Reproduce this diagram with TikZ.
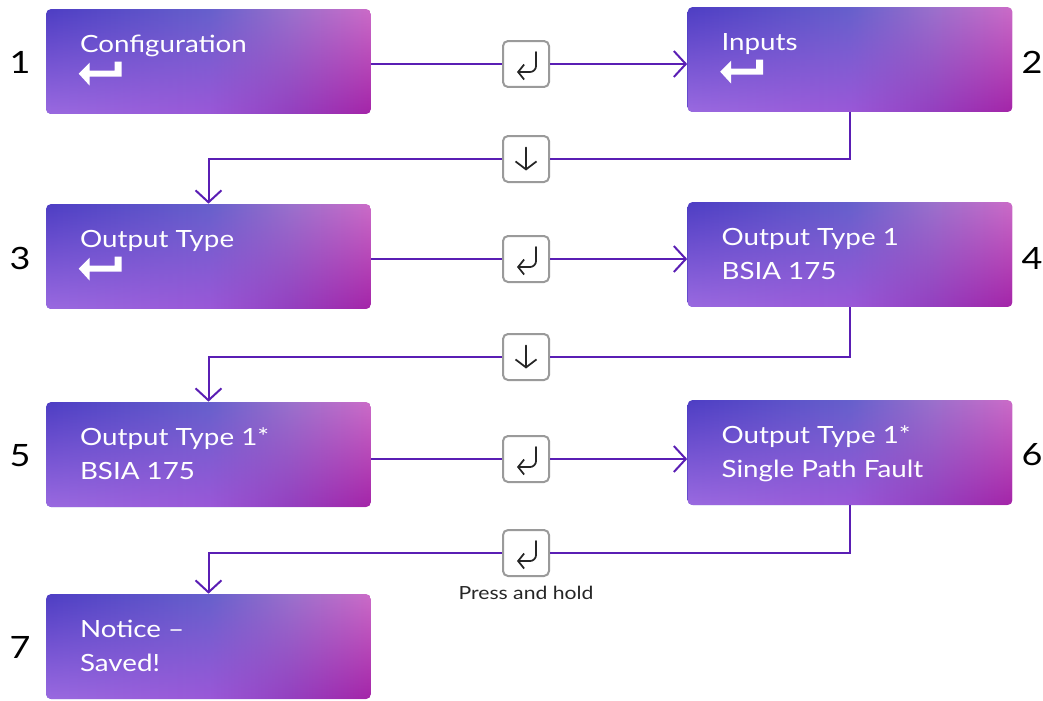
\documentclass[tikz,border=0pt]{standalone}
\usepackage{fontspec}
\setmainfont{Lato}[FakeStretch=1.17]
\usetikzlibrary{arrows.meta,fadings}

\definecolor{flowpurple}{HTML}{5A1EB4}
\definecolor{keygray}{HTML}{9A9A9A}
\definecolor{boxtl}{HTML}{4E3EC4}
\definecolor{boxtm}{HTML}{6660CC}
\definecolor{boxtq}{HTML}{9A70CC}
\definecolor{boxtr}{HTML}{CC6CC8}
\definecolor{boxbl}{HTML}{9A6AE0}
\definecolor{boxbm}{HTML}{9A58D8}
\definecolor{boxbq}{HTML}{9440C0}
\definecolor{boxbr}{HTML}{A424A8}

% stops 25bp..75bp span the box
\pgfdeclarehorizontalshading{boxtop}{100bp}{color(0bp)=(boxtl); color(25bp)=(boxtl); color(50bp)=(boxtm); color(62.5bp)=(boxtq); color(75bp)=(boxtr); color(100bp)=(boxtr)}
\pgfdeclarehorizontalshading{boxbottom}{100bp}{color(0bp)=(boxbl); color(25bp)=(boxbl); color(50bp)=(boxbm); color(62.5bp)=(boxbq); color(75bp)=(boxbr); color(100bp)=(boxbr)}

\tikzset{
  menubox/.style={rectangle, rounded corners=0.1cm, minimum width=6.5cm, minimum height=2.1cm, inner sep=0pt,
    shading=boxtop, postaction={path fading=north, shading=boxbottom}},
  menutext/.style={text=white, font=\fontsize{13.5}{16}\selectfont, inner sep=0pt, anchor=base west},
  numlabel/.style={font=\fontsize{17.5}{20}\selectfont, inner sep=0pt},
  keybox/.style={draw=keygray, line width=0.04cm, fill=white, rounded corners=0.1cm, minimum size=0.92cm, inner sep=0pt},
  keysym/.style={draw=black!85, line width=0.035cm, line cap=round},
  flowline/.style={draw=flowpurple, line width=0.04cm},
  flowarrow/.style={flowline, -{Straight Barb[length=0.24cm,width=0.52cm]}},
  enterkey/.pic={\fill[white] (33,65) -- (44,54) -- (44,62) -- (69,62) -- (69,53) -- (76,53) -- (76,68) -- (44,68) -- (44,77) -- cycle;},
  retsym/.pic={\draw[keysym,-{Straight Barb[length=0.12cm,width=0.3cm]}] (10,-12) -- (10,2) arc[start angle=0, end angle=90, radius=6] -- (-9,8);},
  downsym/.pic={\draw[keysym,-{Straight Barb[length=0.16cm,width=0.42cm]}] (0,-11.5) -- (0,11.5);}
}

\begin{document}
\begin{tikzpicture}[x=0.02cm,y=-0.02cm]
    \useasboundingbox (0,0) rectangle (1043,700);

    % menu screens
    \node[menubox] (cfg) at (208.5,61.5) {};
    \node[menubox] (inp) at (850,59.5) {};
    \node[menubox] (otype) at (208.5,256.5) {};
    \node[menubox] (otone) at (850,254.5) {};
    \node[menubox] (otstar) at (208.5,454.5) {};
    \node[menubox] (spf) at (850,452.5) {};
    \node[menubox] (saved) at (208.5,646.5) {};

    \node[menutext] (cfg-a) at ([shift={(34,44)}]cfg.north west) {Configuration};
    \pic at (cfg.north west) {enterkey};
    \node[menutext] (inp-a) at ([shift={(34,44)}]inp.north west) {Inputs};
    \pic at (inp.north west) {enterkey};
    \node[menutext] (otype-a) at ([shift={(34,44)}]otype.north west) {Output Type};
    \pic at (otype.north west) {enterkey};
    \node[menutext] (otone-a) at ([shift={(34,44)}]otone.north west) {Output Type 1};
    \node[menutext] (otone-b) at ([shift={(34,78)}]otone.north west) {BSIA 175};
    \node[menutext] (otstar-a) at ([shift={(34,44)}]otstar.north west) {Output Type 1*};
    \node[menutext] (otstar-b) at ([shift={(34,78)}]otstar.north west) {BSIA 175};
    \node[menutext] (spf-a) at ([shift={(34,44)}]spf.north west) {Output Type 1*};
    \node[menutext] (spf-b) at ([shift={(34,78)}]spf.north west) {Single Path Fault};
    \node[menutext] (saved-a) at ([shift={(34,44)}]saved.north west) {Notice --};
    \node[menutext] (saved-b) at ([shift={(34,78)}]saved.north west) {Saved!};

    % step numbers
    \node[numlabel] (n1) at (20,62) {1};
    \node[numlabel] (n2) at (1032,62) {2};
    \node[numlabel] (n3) at (20,258) {3};
    \node[numlabel] (n4) at (1032,258) {4};
    \node[numlabel] (n5) at (20,456) {5};
    \node[numlabel] (n6) at (1032,455) {6};
    \node[numlabel] (n7) at (20,647) {7};

    % keys
    \node[keybox] (k1) at (526,64) {};
    \pic at (k1) {retsym};
    \node[keybox] (kd1) at (526,159) {};
    \pic at (kd1) {downsym};
    \node[keybox] (k2) at (526,259) {};
    \pic at (k2) {retsym};
    \node[keybox] (kd2) at (526,357) {};
    \pic at (kd2) {downsym};
    \node[keybox] (k3) at (526,459) {};
    \pic at (k3) {retsym};
    \node[keybox] (kd3) at (526,553) {};
    \pic at (kd3) {retsym};
    \node[font=\fontsize{10.3}{12}\selectfont, text=black!85, inner sep=0pt, anchor=base] (hold) at ([shift={(0,22.5)}]kd3.south) {Press and hold};

    % connectors
    \draw[flowline] (k1 -| cfg.east) -- (k1.west);
    \draw[flowarrow] (k1.east) -- (k1 -| inp.west);
    \draw[flowline] (inp.south) |- (kd1.east);
    \draw[flowarrow] (kd1.west) -| (otype.north);
    \draw[flowline] (k2 -| otype.east) -- (k2.west);
    \draw[flowarrow] (k2.east) -- (k2 -| otone.west);
    \draw[flowline] (otone.south) |- (kd2.east);
    \draw[flowarrow] (kd2.west) -| (otstar.north);
    \draw[flowline] (k3 -| otstar.east) -- (k3.west);
    \draw[flowarrow] (k3.east) -- (k3 -| spf.west);
    \draw[flowline] (spf.south) |- (kd3.east);
    \draw[flowarrow] (kd3.west) -| (saved.north);

\end{tikzpicture}
\end{document}
